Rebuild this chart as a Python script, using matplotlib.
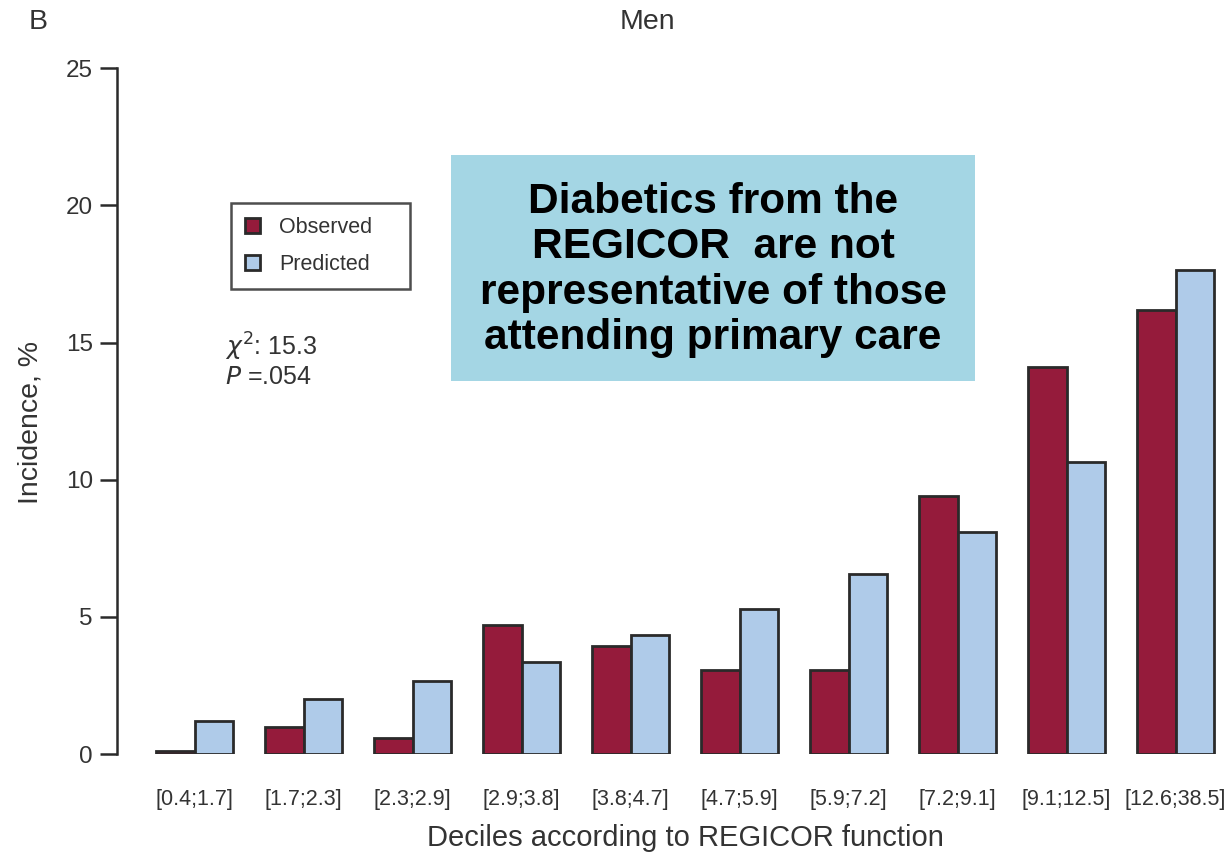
import matplotlib
matplotlib.use("Agg")
import matplotlib.pyplot as plt
import numpy as np

plt.rcParams['font.family'] = ['Liberation Sans', 'DejaVu Sans']

deciles = ["[0.4;1.7]", "[1.7;2.3]", "[2.3;2.9]", "[2.9;3.8]", "[3.8;4.7]",
           "[4.7;5.9]", "[5.9;7.2]", "[7.2;9.1]", "[9.1;12.5]", "[12.6;38.5]"]
observed = [0.1, 1.0, 0.6, 4.7, 3.95, 3.05, 3.05, 9.4, 14.1, 16.2]
predicted = [1.2, 2.0, 2.65, 3.35, 4.35, 5.3, 6.55, 8.1, 10.65, 17.65]
y_ticks = [0, 5, 10, 15, 20, 25]

obs_color = "#951B3B"
pred_color = "#AFCBE9"
edge = "#2a2a2a"
text_color = "#333333"

fig = plt.figure(figsize=(12.27, 8.52), dpi=100)
ax = fig.add_axes([0.095, 0.115, 0.90, 0.805])

x = np.arange(len(deciles))
w = 0.355
ax.bar(x - w / 2, observed, w, color=obs_color, edgecolor=edge, linewidth=2, label="Observed")
ax.bar(x + w / 2, predicted, w, color=pred_color, edgecolor=edge, linewidth=2, label="Predicted")

ax.set_xlim(-0.716, 9.415)
ax.set_ylim(0, 25)
ax.set_yticks(y_ticks)
ax.set_xticks(x)
ax.set_xticklabels(deciles, fontsize=15.5, color=text_color)
ax.tick_params(axis='x', length=0, pad=25)
ax.tick_params(axis='y', length=12, width=1.8, color=edge, labelsize=17.5, labelcolor=text_color, pad=5)
for s in ("top", "right", "bottom"):
    ax.spines[s].set_visible(False)
ax.spines["left"].set_linewidth(1.8)
ax.spines["left"].set_color(edge)

ax.set_ylabel("Incidence, %", fontsize=20.5, color=text_color, labelpad=16)
ax.yaxis.label.set_y(0.484)
ax.set_xlabel("Deciles according to REGICOR function", fontsize=21, color=text_color, labelpad=10)
ax.xaxis.label.set_x(0.515)

fig.text(0.528, 0.974, "Men", fontsize=20.5, color=text_color, ha="center", va="center")
fig.text(0.031, 0.974, "B", fontsize=20.5, color=text_color, ha="center", va="center")

leg = ax.legend(loc="upper left", bbox_to_anchor=(0.1035, 0.0, 0.162, 0.804), mode="expand",
                frameon=True, fancybox=False,
                edgecolor="#222222", fontsize=15.5, handlelength=0.7, handleheight=0.7,
                borderpad=0.65, labelspacing=0.75, handletextpad=0.9, borderaxespad=0)
leg.get_frame().set_linewidth(1.8)
for t in leg.get_texts():
    t.set_color(text_color)

ax.text(0.098, 0.593, "$\\chi^2$: 15.3", transform=ax.transAxes, fontsize=18, color=text_color, va="center")
ax.text(0.098, 0.549, "$P$ =.054", transform=ax.transAxes, fontsize=18, color=text_color, va="center")

fig.patches.append(plt.Rectangle((451 / 1227, 1 - 381 / 852), (975 - 451) / 1227, (381 - 155) / 852,
                                 transform=fig.transFigure, facecolor="#A4D6E4", edgecolor="none", zorder=5))
fig.text(713 / 1227, 1 - 270 / 852,
         "Diabetics from the\nREGICOR  are not\nrepresentative of those\nattending primary care",
         fontsize=30.5, fontweight="bold", color="black", ha="center", va="center", linespacing=1.18, zorder=6)

fig.savefig("out.png", dpi=100)
